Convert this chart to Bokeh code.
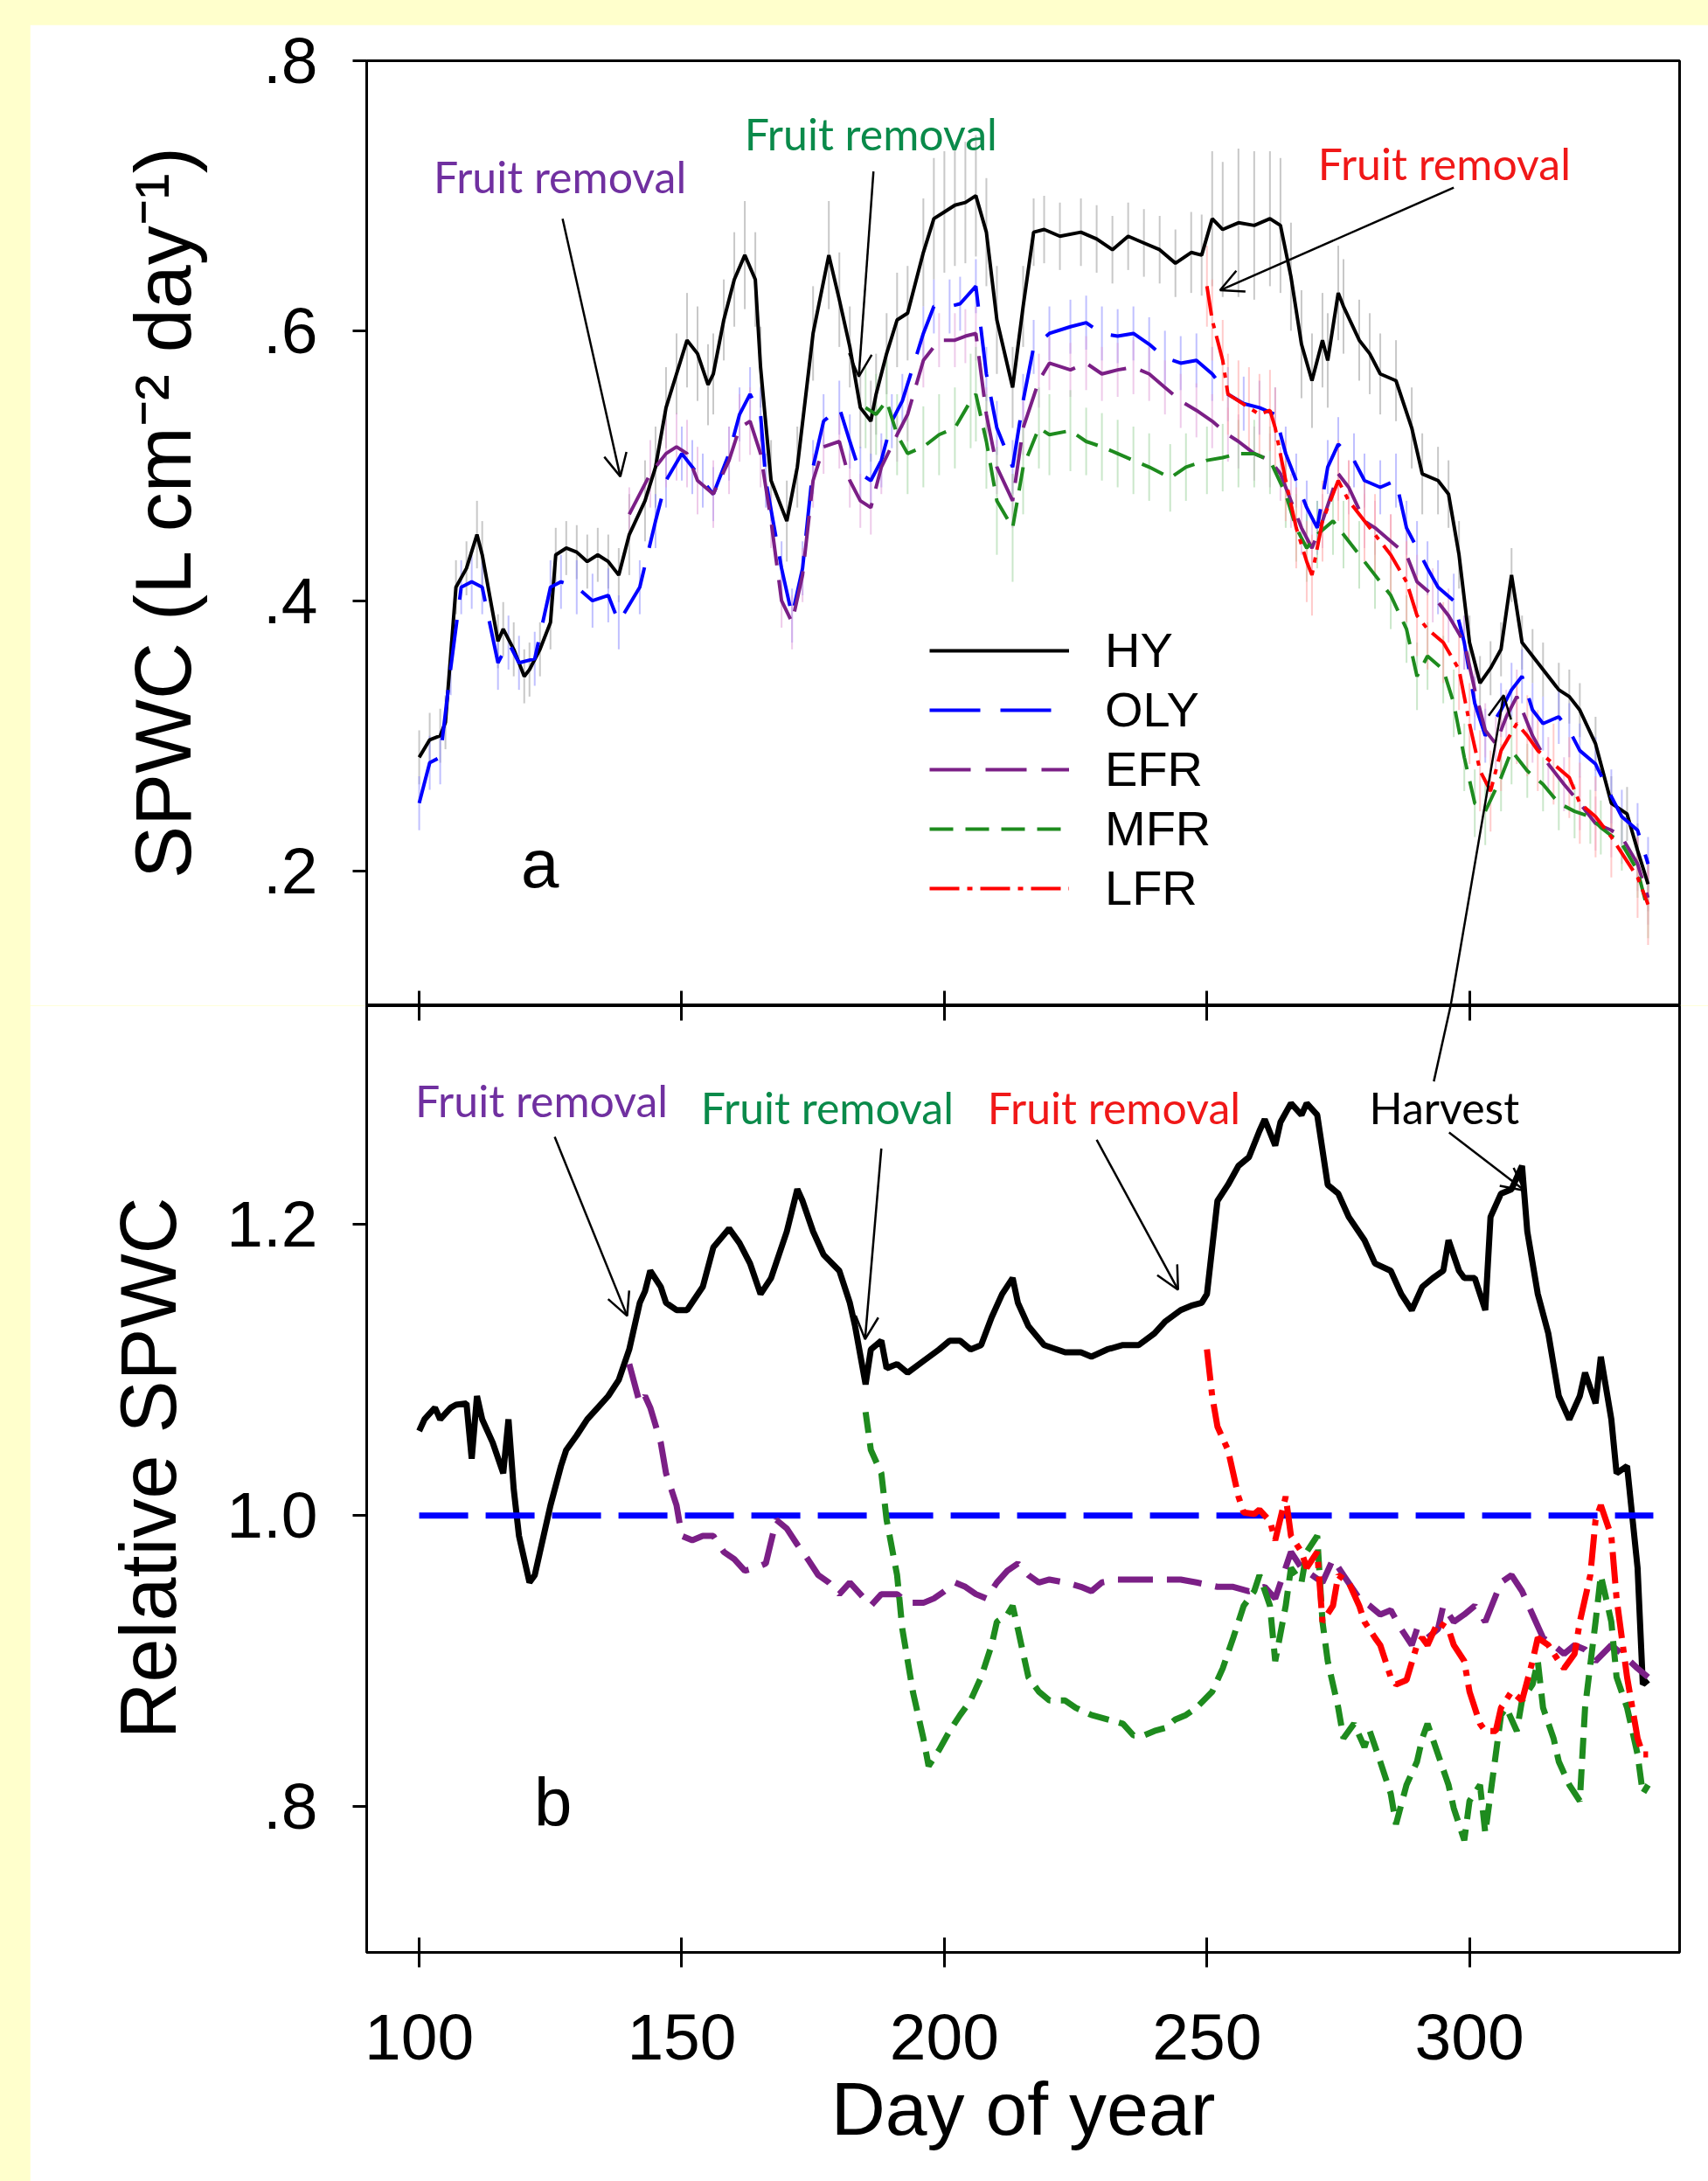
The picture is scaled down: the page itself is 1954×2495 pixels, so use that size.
from bokeh.plotting import figure
from bokeh.models import (Range1d, FixedTicker, LinearAxis, Arrow, OpenHead,
                          Legend, LegendItem, ColumnDataSource, CustomLabelingPolicy)
from bokeh.layouts import column
from bokeh.embed import file_html
from bokeh.resources import INLINE
from bokeh.core.properties import value

# ---------------- data ----------------
X_TICKS = [100, 150, 200, 250, 300]
A_TICKS = [0.2, 0.4, 0.6, 0.8]
A_TICK_LABELS = [".2", ".4", ".6", ".8"]
B_TICKS = [0.8, 1.0, 1.2]
B_TICK_LABELS = [".8", "1.0", "1.2"]
SERIES = ["HY", "OLY", "EFR", "MFR", "LFR"]

# panel a: (day, SPWC, error)
HY_A = [(100,0.284,0.02),(102,0.297,0.02),(104,0.300,0.02),(105,0.310,0.02),(107,0.410,0.02),(109,0.424,0.02),
        (111,0.449,0.025),(112,0.434,0.025),(115,0.370,0.02),(116,0.379,0.02),(118,0.364,0.02),(120,0.344,0.02),
        (121,0.349,0.02),(123,0.364,0.02),(125,0.384,0.02),(126,0.434,0.02),(128,0.439,0.02),(130,0.436,0.02),
        (132,0.429,0.02),(134,0.434,0.02),(136,0.429,0.02),(138,0.419,0.02),(140,0.449,0.03),(143,0.474,0.03),
        (145,0.499,0.03),(147,0.543,0.03),(149,0.568,0.03),(151,0.593,0.035),(153,0.583,0.035),(155,0.560,0.03),
        (156,0.568,0.03),(158,0.608,0.03),(160,0.638,0.035),(162,0.656,0.04),(164,0.638,0.035),(165,0.573,0.03),
        (167,0.489,0.03),(170,0.459,0.03),(172,0.499,0.03),(175,0.598,0.035),(178,0.656,0.04),(180,0.623,0.035),
        (182,0.588,0.03),(184,0.543,0.03),(186,0.533,0.03),(187,0.553,0.03),(189,0.583,0.03),(191,0.608,0.035),
        (193,0.613,0.035),(196,0.658,0.04),(198,0.683,0.045),(200,0.688,0.045),(202,0.693,0.045),(204,0.695,0.045),
        (206,0.700,0.045),(208,0.673,0.04),(210,0.608,0.04),(213,0.558,0.03),(215,0.618,0.03),(217,0.673,0.025),
        (219,0.675,0.025),(222,0.670,0.025),(226,0.673,0.025),(229,0.668,0.025),(232,0.660,0.025),(235,0.670,0.025),
        (238,0.665,0.025),(241,0.660,0.025),(244,0.650,0.025),(247,0.658,0.03),(249,0.656,0.03),(251,0.683,0.05),
        (253,0.675,0.05),(256,0.680,0.055),(259,0.678,0.055),(262,0.683,0.05),(264,0.678,0.05),(266,0.640,0.04),
        (268,0.590,0.04),(270,0.563,0.035),(272,0.593,0.035),(273,0.578,0.035),(275,0.628,0.035),(276,0.618,0.035),
        (279,0.593,0.03),(281,0.583,0.03),(283,0.568,0.03),(286,0.563,0.03),(289,0.528,0.03),(291,0.494,0.03),
        (294,0.489,0.025),(296,0.479,0.025),(298,0.434,0.025),(300,0.369,0.02),(302,0.339,0.02),(304,0.350,0.02),
        (306,0.364,0.02),(308,0.419,0.02),(310,0.369,0.02),(312,0.359,0.02),(314,0.349,0.02),(317,0.334,0.02),
        (319,0.329,0.02),(321,0.319,0.02),(324,0.294,0.02),(327,0.250,0.02),(330,0.242,0.02),(332,0.215,0.02),
        (334,0.190,0.02)]

OLY_A = [(100,0.250,0.02),(102,0.280,0.02),(104,0.284,0.02),(106,0.350,0.02),(108,0.410,0.02),(110,0.414,0.02),
         (112,0.410,0.02),(115,0.354,0.02),(117,0.369,0.02),(119,0.354,0.02),(122,0.357,0.02),(125,0.410,0.02),
         (127,0.414,0.02),(130,0.410,0.02),(133,0.400,0.02),(136,0.404,0.02),(138,0.384,0.02),(142,0.410,0.02),
         (145,0.459,0.02),(147,0.489,0.02),(150,0.509,0.02),(152,0.499,0.02),(154,0.489,0.02),(156,0.479,0.02),
         (159,0.509,0.02),(161,0.538,0.02),(163,0.553,0.02),(165,0.538,0.02),(166,0.489,0.02),(169,0.424,0.02),
         (171,0.389,0.02),(173,0.424,0.02),(175,0.499,0.02),(177,0.533,0.02),(180,0.543,0.02),(182,0.518,0.02),
         (184,0.494,0.02),(186,0.489,0.02),(188,0.504,0.02),(190,0.533,0.02),(192,0.548,0.02),(196,0.598,0.02),
         (198,0.618,0.02),(201,0.618,0.02),(203,0.620,0.02),(206,0.633,0.02),(208,0.568,0.02),(210,0.528,0.02),
         (213,0.499,0.02),(215,0.548,0.02),(217,0.588,0.02),(220,0.598,0.02),(224,0.603,0.02),(227,0.606,0.02),
         (230,0.598,0.02),(233,0.596,0.02),(236,0.598,0.02),(239,0.590,0.02),(242,0.580,0.02),(245,0.576,0.02),
         (248,0.578,0.02),(251,0.568,0.02),(254,0.553,0.02),(257,0.546,0.02),(260,0.543,0.02),(263,0.538,0.02),
         (265,0.509,0.02),(267,0.489,0.02),(269,0.469,0.02),(271,0.454,0.02),(273,0.499,0.02),(275,0.516,0.02),
         (278,0.504,0.02),(280,0.489,0.02),(283,0.484,0.02),(286,0.489,0.02),(288,0.454,0.02),(290,0.439,0.02),
         (292,0.424,0.02),(294,0.410,0.02),(297,0.400,0.02),(299,0.369,0.02),(301,0.324,0.02),(303,0.300,0.02),
         (306,0.319,0.02),(308,0.334,0.02),(310,0.344,0.02),(312,0.319,0.02),(314,0.309,0.02),(317,0.314,0.02),
         (319,0.304,0.02),(321,0.289,0.02),(324,0.279,0.02),(327,0.255,0.02),(329,0.240,0.02),(332,0.230,0.02),
         (334,0.205,0.02)]

EFR_A = [(140,0.464,0.02),(144,0.494,0.025),(147,0.509,0.025),(149,0.514,0.025),(151,0.509,0.025),(153,0.489,0.025),
         (156,0.479,0.025),(159,0.504,0.025),(161,0.528,0.025),(163,0.533,0.025),(165,0.509,0.025),(167,0.459,0.02),
         (169,0.400,0.02),(171,0.384,0.02),(173,0.419,0.02),(175,0.489,0.02),(177,0.514,0.02),(180,0.518,0.02),
         (182,0.489,0.02),(184,0.474,0.02),(186,0.469,0.02),(188,0.499,0.02),(191,0.523,0.02),(193,0.538,0.02),
         (196,0.578,0.02),(199,0.593,0.02),(202,0.593,0.02),(204,0.596,0.02),(206,0.598,0.02),(208,0.538,0.02),
         (210,0.499,0.02),(213,0.474,0.02),(215,0.528,0.02),(218,0.563,0.02),(220,0.576,0.02),(224,0.571,0.02),
         (227,0.576,0.02),(230,0.568,0.02),(233,0.571,0.02),(236,0.573,0.02),(239,0.568,0.02),(242,0.558,0.02),
         (245,0.548,0.02),(248,0.541,0.02),(251,0.533,0.02),(254,0.523,0.02),(256,0.518,0.02),(259,0.509,0.02),
         (262,0.504,0.02),(264,0.494,0.02),(266,0.474,0.02),(268,0.454,0.02),(270,0.439,0.02),(272,0.459,0.02),
         (275,0.494,0.02),(277,0.484,0.02),(280,0.459,0.02),(282,0.454,0.02),(285,0.444,0.02),(288,0.434,0.02),
         (290,0.414,0.02),(293,0.404,0.02),(296,0.389,0.02),(299,0.369,0.02),(301,0.334,0.02),(303,0.304,0.02),
         (305,0.294,0.02),(307,0.314,0.02),(309,0.329,0.02),(312,0.300,0.02),(315,0.279,0.02),(318,0.264,0.02),
         (321,0.250,0.02),(324,0.235,0.02),(327,0.230,0.02),(329,0.225,0.02),(332,0.205,0.02),(334,0.180,0.02)]

MFR_A = [(185,0.543,0.03),(187,0.538,0.03),(189,0.548,0.03),(191,0.523,0.03),(193,0.509,0.03),(196,0.514,0.03),
         (199,0.523,0.03),(202,0.528,0.03),(205,0.548,0.035),(206,0.553,0.035),(208,0.518,0.035),(210,0.474,0.04),
         (213,0.454,0.04),(215,0.499,0.035),(218,0.528,0.03),(220,0.523,0.03),(224,0.526,0.03),(227,0.518,0.025),
         (230,0.514,0.025),(233,0.509,0.025),(236,0.504,0.025),(239,0.499,0.025),(243,0.491,0.025),(246,0.499,0.025),
         (250,0.504,0.025),(253,0.506,0.025),(256,0.509,0.025),(259,0.509,0.025),(262,0.504,0.025),(265,0.479,0.025),
         (267,0.454,0.025),(269,0.439,0.025),(271,0.449,0.025),(274,0.459,0.025),(276,0.449,0.025),(279,0.434,0.025),
         (282,0.419,0.025),(285,0.404,0.025),(288,0.379,0.025),(290,0.344,0.025),(292,0.359,0.025),(295,0.349,0.025),
         (297,0.324,0.025),(299,0.284,0.025),(301,0.250,0.025),(303,0.244,0.025),(306,0.269,0.025),(308,0.289,0.025),
         (311,0.274,0.02),(314,0.264,0.02),(317,0.250,0.02),(320,0.244,0.02),(323,0.240,0.02),(325,0.232,0.02),
         (329,0.220,0.02),(332,0.200,0.02),(334,0.170,0.02)]

LFR_A = [(250,0.633,0.03),(251,0.608,0.03),(253,0.578,0.03),(254,0.553,0.03),(256,0.548,0.03),(258,0.543,0.03),
         (260,0.538,0.03),(262,0.541,0.03),(263,0.528,0.03),(265,0.489,0.03),(267,0.454,0.03),(269,0.429,0.03),
         (270,0.419,0.03),(272,0.459,0.03),(275,0.489,0.03),(277,0.474,0.03),(280,0.459,0.03),(282,0.449,0.03),
         (285,0.434,0.03),(288,0.414,0.03),(290,0.389,0.03),(292,0.379,0.03),(295,0.369,0.03),(298,0.349,0.03),
         (300,0.309,0.03),(302,0.274,0.03),(304,0.259,0.03),(306,0.289,0.03),(309,0.309,0.03),(311,0.300,0.03),
         (313,0.289,0.03),(316,0.279,0.03),(319,0.269,0.03),(321,0.250,0.03),(324,0.240,0.03),(327,0.225,0.03),
         (332,0.195,0.03),(334,0.175,0.03)]

# panel b: (day, relative SPWC)
HY_B = [(100,1.058),(101,1.066),(103,1.074),(104,1.066),(106,1.074),(107,1.076),(109,1.077),(110,1.039),
        (111,1.082),(112,1.066),(114,1.050),(116,1.029),(117,1.066),(118,1.018),(119,0.986),(121,0.954),
        (122,0.959),(123,0.975),(125,1.007),(127,1.034),(128,1.045),(130,1.055),(132,1.066),(134,1.074),
        (136,1.082),(138,1.093),(140,1.114),(142,1.146),(143,1.154),(144,1.168),(146,1.157),(147,1.146),
        (149,1.141),(151,1.141),(154,1.157),(156,1.184),(159,1.197),(161,1.187),(163,1.173),(165,1.152),
        (167,1.163),(170,1.195),(172,1.224),(173,1.216),(175,1.195),(177,1.179),(180,1.168),(182,1.146),
        (183,1.130),(185,1.090),(186,1.114),(188,1.120),(189,1.101),(191,1.104),(193,1.098),(196,1.106),
        (199,1.114),(201,1.120),(203,1.120),(205,1.114),(207,1.117),(209,1.136),(211,1.152),(213,1.163),
        (214,1.146),(216,1.130),(219,1.117),(223,1.112),(226,1.112),(228,1.109),(231,1.114),(234,1.117),
        (237,1.117),(240,1.125),(242,1.133),(245,1.141),(247,1.144),(249,1.146),(250,1.152),(252,1.216),
        (254,1.227),(256,1.240),(258,1.246),(260,1.264),(261,1.272),(263,1.254),(264,1.270),(266,1.283),
        (268,1.275),(269,1.283),(271,1.275),(273,1.227),(275,1.221),(277,1.205),(280,1.189),(282,1.173),
        (285,1.168),(287,1.152),(289,1.141),(291,1.157),(293,1.163),(295,1.168),(296,1.189),(298,1.168),
        (299,1.163),(301,1.163),(303,1.141),(304,1.205),(306,1.221),(308,1.224),(310,1.240),(311,1.195),
        (313,1.152),(315,1.125),(317,1.082),(319,1.066),(321,1.082),(322,1.098),(324,1.077),(325,1.109),
        (327,1.066),(328,1.029),(330,1.034),(332,0.964),(333,0.884),(334,0.887)]

OLY_B = [(100,1.0),(335,1.0)]

EFR_B = [(140,1.104),(142,1.077),(143,1.082),(144,1.074),(146,1.050),(147,1.029),(149,1.007),(150,0.986),
         (152,0.983),(154,0.986),(156,0.986),(158,0.975),(160,0.970),(162,0.962),(164,0.964),(166,0.967),
         (168,0.997),(170,0.991),(172,0.980),(174,0.970),(176,0.959),(178,0.954),(180,0.946),(182,0.954),
         (184,0.946),(186,0.938),(188,0.946),(191,0.946),(193,0.940),(196,0.940),(198,0.943),(200,0.948),
         (202,0.954),(204,0.951),(206,0.946),(208,0.943),(210,0.954),(212,0.962),(214,0.967),(216,0.959),
         (218,0.954),(220,0.956),(223,0.954),(226,0.951),(228,0.948),(230,0.954),(233,0.956),(236,0.956),
         (239,0.956),(242,0.956),(245,0.956),(248,0.954),(252,0.951),(255,0.951),(258,0.948),(261,0.951),
         (263,0.943),(266,0.975),(268,0.964),(270,0.959),(272,0.954),(274,0.970),(276,0.959),(279,0.943),
         (281,0.938),(283,0.932),(285,0.935),(287,0.922),(289,0.911),(290,0.922),(292,0.916),(294,0.922),
         (295,0.938),(297,0.927),(299,0.932),(301,0.938),(303,0.927),(306,0.954),(308,0.959),(310,0.948),
         (312,0.932),(314,0.916),(316,0.911),(318,0.905),(320,0.911),(322,0.908),(324,0.900),(327,0.911),
         (329,0.905),(332,0.895),(334,0.889)]

MFR_B = [(185,1.071),(186,1.045),(188,1.029),(189,0.997),(191,0.959),(192,0.922),(194,0.879),(196,0.847),
         (197,0.828),(199,0.839),(201,0.852),(203,0.863),(205,0.873),(207,0.889),(209,0.911),(210,0.927),
         (212,0.932),(213,0.938),(214,0.922),(216,0.889),(218,0.879),(220,0.873),(223,0.873),(225,0.868),
         (228,0.863),(231,0.860),(234,0.857),(236,0.849),(238,0.849),(240,0.852),(242,0.854),(244,0.860),
         (246,0.863),(248,0.868),(251,0.879),(253,0.895),(255,0.916),(257,0.938),(259,0.948),(260,0.959),
         (262,0.938),(263,0.900),(265,0.938),(266,0.964),(268,0.954),(269,0.975),(271,0.986),(272,0.927),
         (273,0.900),(275,0.868),(276,0.847),(278,0.857),(280,0.841),(281,0.852),(283,0.831),(285,0.809),
         (286,0.788),(288,0.815),(290,0.831),(291,0.847),(292,0.857),(294,0.836),(296,0.815),(297,0.799),
         (299,0.777),(300,0.804),(302,0.815),(303,0.782),(304,0.809),(306,0.863),(307,0.868),(309,0.852),
         (310,0.873),(312,0.884),(313,0.900),(314,0.868),(316,0.847),(317,0.831),(319,0.815),(321,0.804),
         (322,0.868),(324,0.927),(325,0.959),(327,0.927),(328,0.889),(330,0.868),(332,0.836),(333,0.809),
         (334,0.815)]

LFR_B = [(250,1.114),(251,1.082),(252,1.061),(254,1.045),(255,1.029),(256,1.013),(257,1.002),(259,1.001),
         (260,1.004),(262,0.996),(263,0.983),(265,1.013),(266,0.986),(268,0.975),(269,0.964),(271,0.975),
         (272,0.927),(274,0.938),(275,0.959),(277,0.954),(279,0.938),(280,0.927),(282,0.916),(283,0.911),
         (285,0.889),(286,0.884),(288,0.887),(290,0.911),(291,0.916),(292,0.911),(294,0.927),(296,0.922),
         (297,0.911),(299,0.900),(300,0.879),(302,0.857),(303,0.852),(305,0.852),(306,0.868),(308,0.879),
         (310,0.873),(312,0.900),(313,0.916),(315,0.911),(317,0.900),(318,0.895),(320,0.905),(321,0.927),
         (323,0.959),(324,0.997),(325,1.007),(327,0.986),(328,0.943),(330,0.889),(332,0.847),(333,0.836),
         (334,0.836)]

# annotations (text, day, value)
NOTES_A = [("Fruit removal", 126.8, 0.714), ("Fruit removal", 186.0, 0.746), ("Fruit removal", 295.2, 0.724)]
ARROWS_A = [(127.3, 0.683, 138.3, 0.492), (186.5, 0.718, 183.7, 0.566),
            (297.0, 0.706, 252.5, 0.630), (296.4, 0.100, 306.5, 0.330)]
NOTES_B = [("Fruit removal", 123.3, 1.285), ("Fruit removal", 177.7, 1.280),
           ("Fruit removal", 232.3, 1.280), ("Harvest", 295.2, 1.280)]
ARROWS_B = [(125.8, 1.260, 139.6, 1.137), (188.0, 1.252, 184.9, 1.121),
            (229.0, 1.258, 244.5, 1.155), (296.1, 1.263, 310.5, 1.223)]
HARVEST_LINK_B = (293.2, 1.298, 296.4, 1.350)

# ---------------- style ----------------
FONT = "Liberation Sans"
NOTE_FONT = "Lato"
COLORS = {"HY": "black", "OLY": "#0000FF", "EFR": "#7B1F86", "MFR": "#1E8B1E", "LFR": "#FF0000"}
ERR_COLORS = {"HY": "#9A9A9A", "OLY": "#8C8CFF", "EFR": "#E0A0D8", "MFR": "#9ED49E", "LFR": "#FFA0A0"}
DASH_A = {"HY": "solid", "OLY": "58 23", "EFR": "47 17", "MFR": "27 14", "LFR": "34 9 6 9"}
DASH_B = {"HY": "solid", "OLY": "56 20", "EFR": "40 16", "MFR": "24 12", "LFR": "36 10 7 10"}
NOTE_COLORS_A = ["#7030A0", "#0A8A4A", "#F01818"]
NOTE_COLORS_B = ["#7030A0", "#0A8A4A", "#F01818", "black"]
BG = "#FFFFCC"

NO_LABELS = CustomLabelingPolicy(code="""
try { for (let i = 0; i < indices.size; i++) { indices.unset(i) } } catch (e) {}
return indices
""")


def style_axis(ax, tick_in, tick_out, standoff, font_size="75px"):
    ax.axis_line_width = 3
    ax.axis_line_color = "black"
    ax.major_tick_line_width = 3
    ax.major_tick_line_color = "black"
    ax.major_tick_in = tick_in
    ax.major_tick_out = tick_out
    ax.minor_tick_line_color = None
    ax.major_label_standoff = standoff
    ax.major_label_text_font = FONT
    ax.major_label_text_font_size = font_size
    ax.major_label_text_color = "black"
    ax.axis_label_text_font = FONT
    ax.axis_label_text_font_style = "normal"
    ax.axis_label_text_font_size = "90px"
    ax.axis_label_text_color = "black"


def tick_only_axis(ax):
    style_axis(ax, 17, 0, 0, "0px")
    ax.major_label_policy = NO_LABELS


def new_fig(h, y0, y1, top, bottom, margin):
    p = figure(width=1920, height=h, x_range=Range1d(90, 340), y_range=Range1d(y0, y1),
               output_backend="svg", toolbar_location=None,
               min_border_left=385, min_border_right=33, min_border_top=top, min_border_bottom=bottom,
               margin=margin, border_fill_color="white", background_fill_color="white")
    p.grid.visible = False
    p.outline_line_color = "black"
    p.outline_line_width = 3
    return p


# ---------------- panel a ----------------
pa = new_fig(1122, 0.1, 0.8, 41, 0, (28, 0, 0, 34))
tick_only_axis(pa.xaxis[0])
pa.xaxis.ticker = FixedTicker(ticks=X_TICKS)
style_axis(pa.yaxis[0], 0, 16, 40)
pa.yaxis.ticker = FixedTicker(ticks=A_TICKS)
pa.yaxis.major_label_overrides = dict(zip(A_TICKS, A_TICK_LABELS))
pa.yaxis.axis_label = "\u00a0\u00a0SPWC (L cm\u207b\u00b2 day\u207b\u00b9)"
pa.yaxis.axis_label_standoff = 61

data_a = {"HY": HY_A, "OLY": OLY_A, "EFR": EFR_A, "MFR": MFR_A, "LFR": LFR_A}
for name in SERIES:
    rows = data_a[name]
    d = [r[0] for r in rows]
    lo = [r[1] - r[2] for r in rows]
    hi = [r[1] + r[2] for r in rows]
    pa.segment(x0=d, y0=lo, x1=d, y1=hi, line_color=ERR_COLORS[name], line_width=2, line_alpha=0.55)

renderers = {}
for name in SERIES:
    rows = data_a[name]
    src = ColumnDataSource(dict(day=[r[0] for r in rows], val=[r[1] for r in rows]))
    renderers[name] = pa.line("day", "val", source=src, line_color=COLORS[name], line_width=4,
                              line_dash=DASH_A[name])

legend = Legend(items=[LegendItem(label=n, renderers=[renderers[n]]) for n in SERIES],
                location=(644, 102), orientation="vertical",
                glyph_width=160, glyph_height=60, label_height=60, label_standoff=41,
                spacing=3, padding=0, margin=0,
                label_text_font=FONT, label_text_font_size="56px", label_text_color="black",
                border_line_color=None, background_fill_alpha=0)
pa.add_layout(legend, "center")

pa.text(x=[n[1] for n in NOTES_A], y=[n[2] for n in NOTES_A], text=[n[0] for n in NOTES_A],
        text_color=NOTE_COLORS_A, text_font=value(NOTE_FONT), text_font_size=value("50px"),
        text_align="center", text_baseline="middle")
pa.text(x=[123.0], y=[0.205], text=["a"], text_color="black", text_font=value(FONT),
        text_font_size=value("78px"), text_align="center", text_baseline="middle")
for x0, y0, x1, y1 in ARROWS_A:
    pa.add_layout(Arrow(end=OpenHead(size=26, line_width=2.5, line_color="black"),
                        x_start=x0, y_start=y0, x_end=x1, y_end=y1,
                        line_color="black", line_width=2.5))

# ---------------- panel b ----------------
pb = new_fig(1345, 0.70, 1.35, 0, 262, (0, 0, 0, 34))
style_axis(pb.xaxis[0], 17, 17, 54)
pb.xaxis.ticker = FixedTicker(ticks=X_TICKS)
pb.xaxis.axis_label = "Day of year"
pb.xaxis.axis_label_text_font_size = "86px"
pb.xaxis.axis_label_standoff = 5
style_axis(pb.yaxis[0], 0, 16, 40)
pb.yaxis.ticker = FixedTicker(ticks=B_TICKS)
pb.yaxis.major_label_overrides = dict(zip(B_TICKS, B_TICK_LABELS))
pb.yaxis.axis_label = "\u00a0Relative SPWC"
pb.yaxis.axis_label_standoff = 36
top_ax = LinearAxis(ticker=FixedTicker(ticks=X_TICKS))
tick_only_axis(top_ax)
pb.add_layout(top_ax, "above")

data_b = {"HY": HY_B, "OLY": OLY_B, "EFR": EFR_B, "MFR": MFR_B, "LFR": LFR_B}
for name in SERIES:
    rows = data_b[name]
    src = ColumnDataSource(dict(day=[r[0] for r in rows], val=[r[1] for r in rows]))
    pb.line("day", "val", source=src, line_color=COLORS[name], line_width=7, line_dash=DASH_B[name])

pb.text(x=[n[1] for n in NOTES_B], y=[n[2] for n in NOTES_B], text=[n[0] for n in NOTES_B],
        text_color=NOTE_COLORS_B, text_font=value(NOTE_FONT), text_font_size=value("50px"),
        text_align="center", text_baseline="middle")
pb.text(x=[125.5], y=[0.803], text=["b"], text_color="black", text_font=value(FONT),
        text_font_size=value("78px"), text_align="center", text_baseline="middle")
for x0, y0, x1, y1 in ARROWS_B:
    pb.add_layout(Arrow(end=OpenHead(size=26, line_width=2.5, line_color="black"),
                        x_start=x0, y_start=y0, x_end=x1, y_end=y1,
                        line_color="black", line_width=2.5))
hx0, hy0, hx1, hy1 = HARVEST_LINK_B
pb.add_layout(Arrow(end=None, x_start=hx0, y_start=hy0, x_end=hx1, y_end=hy1,
                    line_color="black", line_width=2.5))

layout = column(pa, pb, spacing=0, styles={"background-color": BG})
open("out.html", "w").write(file_html(layout, INLINE))
